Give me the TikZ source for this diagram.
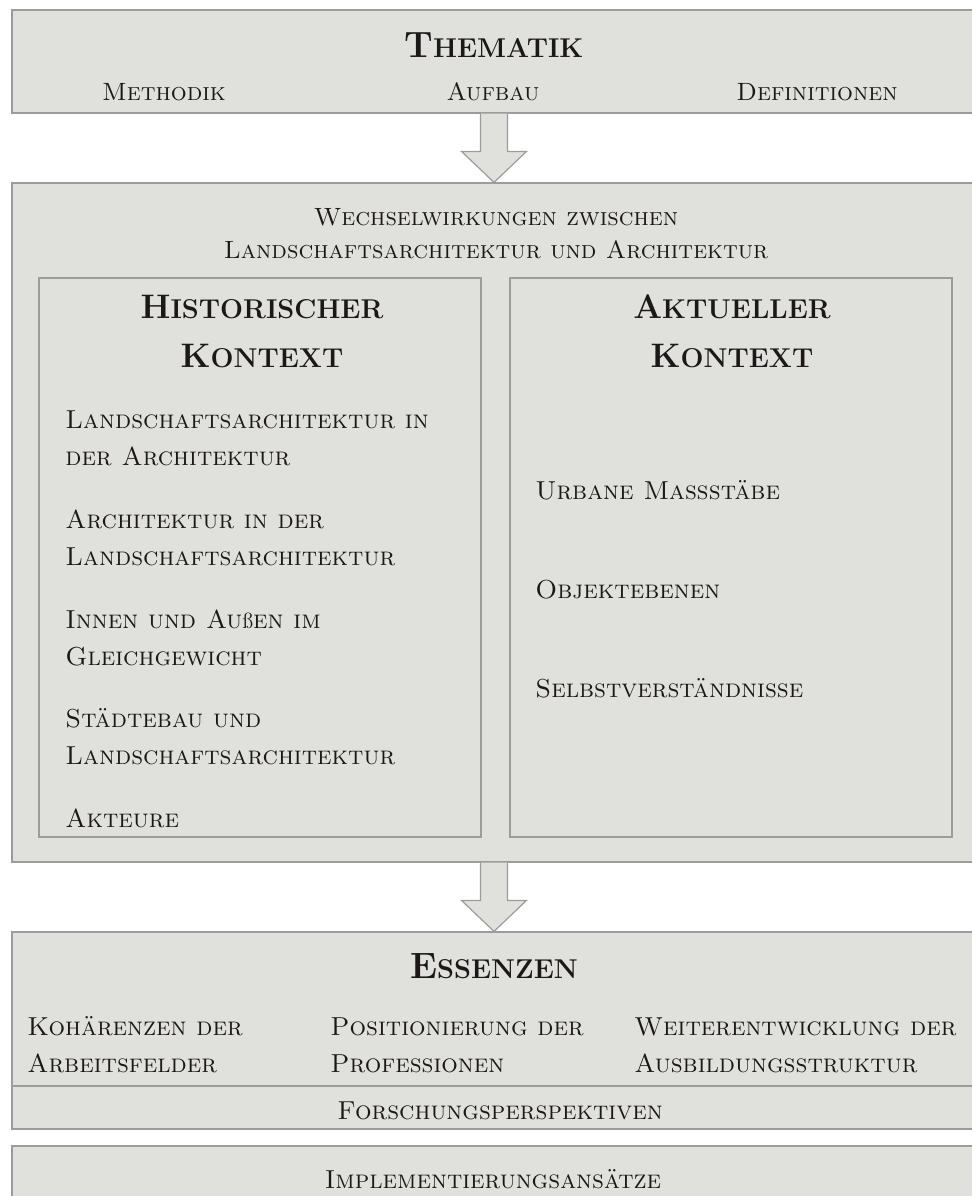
\documentclass[tikz,border=0pt]{standalone}
\usetikzlibrary{positioning}
\usetikzlibrary{fit}
\usetikzlibrary{calc}
\definecolor{boxgray}{HTML}{E0E0DD}
\definecolor{linegray}{HTML}{9C9C9C}
\definecolor{ink}{HTML}{1C1818}
% bold "small caps": big initial, smaller capitals after it
\newcommand{\bsc}[2]{#1{\fontsize{13.6}{13.6}\selectfont #2}}
% sharp s kept as a small letter inside small caps
\newcommand{\scss}{{\normalfont\fontsize{11}{11}\selectfont ß}}
\newcommand{\flowarrow}[2]{%
  \fill[boxgray] ($(#1)+(-13.5,0)$) -- ($(#2)+(-13.5,-31)$) -- ($(#2)+(-32.5,-31)$)
    -- (#2) -- ($(#2)+(32.5,-31)$) -- ($(#2)+(13.5,-31)$) -- ($(#1)+(13.5,0)$) -- cycle;
  \draw[boxline] ($(#1)+(-13.5,0)$) -- ($(#2)+(-13.5,-31)$) -- ($(#2)+(-32.5,-31)$)
    -- (#2) -- ($(#2)+(32.5,-31)$) -- ($(#2)+(13.5,-31)$) -- ($(#1)+(13.5,0)$);}
\tikzset{x=0.5pt, y=-0.5pt,
    boxline/.style={
        draw=linegray,
        line width=0.6pt},
    box/.style={
        boxline,
        fill=boxgray,
        inner sep=0pt},
    title/.style={
        anchor=base,
        text=ink,
        align=center,
        font=\bfseries\fontsize{17}{24.5}\selectfont},
    sub/.style={
        anchor=base,
        text=ink,
        align=center,
        font=\scshape\fontsize{12.5}{16.5}\selectfont},
    item/.style={
        anchor=base west,
        text=ink,
        align=left,
        inner sep=0pt,
        font=\scshape\fontsize{13}{18.5}\selectfont}}

\begin{document}
\begin{tikzpicture}
    \useasboundingbox (0,0) rectangle (972,1196);

    % Thematik
    \node[box, fit={(12,10) (976,113)}] (thema) {};
    \node[title, font=\bfseries\fontsize{18.3}{24}\selectfont] (thematik) at (494,57) {\bsc{T}{HEMATIK}};
    \node[sub] (methodik) at (164,100) {Methodik};
    \node[sub] (aufbau) at (493,100) {Aufbau};
    \node[sub] (definitionen) at (817,100) {Definitionen};

    % Kontexte (multi-line nodes sit on their last baseline)
    \node[box, fit={(12,183) (976,862)}] (wechsel) {};
    \node[sub] (wechseltext) at (496,258) {Wechselwirkungen zwischen\\Landschaftsarchitektur und Architektur};
    \node[box, fit={(39,278) (481,837)}] (hist) {};
    \node[box, fit={(510,278) (952,837)}] (akt) {};
    \node[title] (histtitle) at (262,367) {\bsc{H}{ISTORISCHER}\\\bsc{K}{ONTEXT}};
    \node[title] (akttitle) at (732,367) {\bsc{A}{KTUELLER}\\\bsc{K}{ONTEXT}};

    \node[item] (h1) at (65,465) {Landschaftsarchitektur in\\der Architektur};
    \node[item] (h2) at (65,565) {Architektur in der\\Landschaftsarchitektur};
    \node[item] (h3) at (65,665) {Innen und Au\scss en im\\Gleichgewicht};
    \node[item] (h4) at (65,764) {Städtebau und\\Landschaftsarchitektur};
    \node[item] (h5) at (65,827) {Akteure};

    \node[item] (a1) at (535,499) {Urbane Maßstäbe};
    \node[item] (a2) at (535,598) {Objektebenen};
    \node[item] (a3) at (535,697) {Selbstverständnisse};

    % Essenzen
    \node[box, fit={(12,932) (976,1086)}] (essenz) {};
    \node[box, fit={(12,1086) (976,1129)}] (forschung) {};
    \node[title, font=\bfseries\fontsize{18.3}{24}\selectfont] (essenztitle) at (494,978) {\bsc{E}{SSENZEN}};
    \node[item] (e1) at (27,1072) {Kohärenzen der\\Arbeitsfelder};
    \node[item] (e2) at (330,1072) {Positionierung der\\Professionen};
    \node[item] (e3) at (634,1072) {Weiterentwicklung der\\Ausbildungsstruktur};
    \node[sub, font=\scshape\fontsize{13}{16}\selectfont] (forschtext) at (500,1119) {Forschungsperspektiven};

    % Implementierung
    \node[box, fit={(12,1146) (976,1215)}] (impl) {};
    \node[sub, font=\scshape\fontsize{13}{16}\selectfont] (impltext) at (493,1188) {Implementierungsansätze};

    \flowarrow{thema.south}{wechsel.north}
    \flowarrow{wechsel.south}{essenz.north}
\end{tikzpicture}
\end{document}
